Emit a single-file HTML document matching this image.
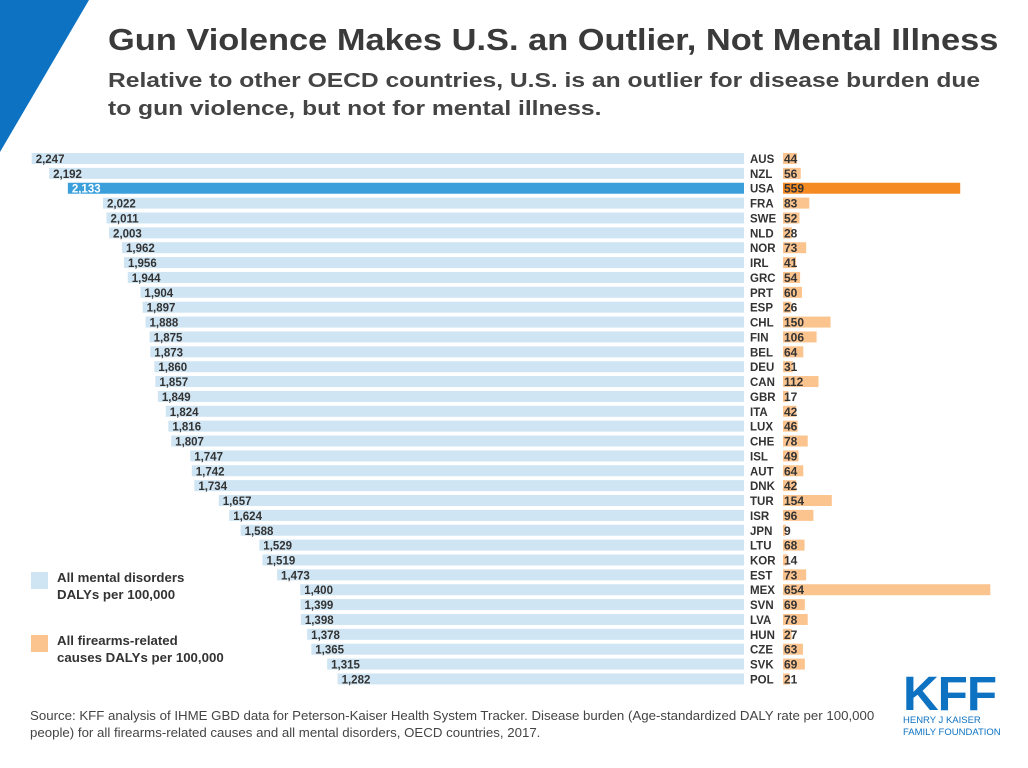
<!DOCTYPE html>
<html><head><meta charset="utf-8"><style>
body{margin:0;width:1028px;height:768px;background:#fff;font-family:"Liberation Sans",sans-serif;overflow:hidden;position:relative}
.t{position:absolute;white-space:nowrap;transform-origin:left top}
</style></head><body>
<svg width="100" height="160" style="position:absolute;left:0;top:0"><polygon points="0,0 89,0 0,152" fill="#0d72c2"/></svg>
<div class="t" style="left:108px;top:22px;font-size:31px;font-weight:bold;color:#3a3a3a;transform:scaleX(1.11)">Gun Violence Makes U.S. an Outlier, Not Mental Illness</div>
<div class="t" style="left:108px;top:67px;font-size:20.5px;font-weight:bold;color:#444;line-height:28px;transform:scaleX(1.2)">Relative to other OECD countries, U.S. is an outlier for disease burden due<br>to gun violence, but not for mental illness.</div>
<svg id="chart" width="1028" height="700" style="position:absolute;left:0;top:0"></svg>
<div style="position:absolute;left:31px;top:572px;width:17px;height:17px;background:#cfe5f3"></div>
<div class="t" style="left:57px;top:570px;font-size:12.5px;font-weight:bold;color:#333;line-height:17px;transform:scaleX(1.06)">All mental disorders<br>DALYs per 100,000</div>
<div style="position:absolute;left:31px;top:635px;width:17px;height:17px;background:#fbc48f"></div>
<div class="t" style="left:57px;top:633px;font-size:12.5px;font-weight:bold;color:#333;line-height:17px;transform:scaleX(1.06)">All firearms-related<br>causes DALYs per 100,000</div>
<div class="t" style="left:30px;top:708px;font-size:12.5px;color:#444;line-height:17px;transform:scaleX(1.06)">Source: KFF analysis of IHME GBD data for Peterson-Kaiser Health System Tracker. Disease burden (Age-standardized DALY rate per 100,000<br>people) for all firearms-related causes and all mental disorders, OECD countries, 2017.</div>
<div class="t" style="left:903px;top:672px;font-size:48px;font-weight:bold;color:#0d72c2;letter-spacing:-1px;line-height:46px;transform:scaleX(1.03)">KFF</div>
<div class="t" style="left:903px;top:715px;font-size:9.5px;color:#0d72c2;line-height:12px">HENRY J KAISER<br>FAMILY FOUNDATION</div>
<script>
const countries=["AUS","NZL","USA","FRA","SWE","NLD","NOR","IRL","GRC","PRT","ESP","CHL","FIN","BEL","DEU","CAN","GBR","ITA","LUX","CHE","ISL","AUT","DNK","TUR","ISR","JPN","LTU","KOR","EST","MEX","SVN","LVA","HUN","CZE","SVK","POL"];
const mental=[2247,2192,2133,2022,2011,2003,1962,1956,1944,1904,1897,1888,1875,1873,1860,1857,1849,1824,1816,1807,1747,1742,1734,1657,1624,1588,1529,1519,1473,1400,1399,1398,1378,1365,1315,1282];
const firearms=[44,56,559,83,52,28,73,41,54,60,26,150,106,64,31,112,17,42,46,78,49,64,42,154,96,9,68,14,73,654,69,78,27,63,69,21];
const svg=document.getElementById('chart');const NS='http://www.w3.org/2000/svg';
const scale=0.317, leftEnd=744, rightStart=783, top0=153, step=14.87, bh=11;
const y=i=>top0+i*step;
function mk(tag,attrs){const e=document.createElementNS(NS,tag);for(const k in attrs)e.setAttribute(k,attrs[k]);svg.appendChild(e);return e;}
countries.forEach((c,i)=>{
 const us=c==="USA";
 const w=mental[i]*scale;
 const b=mk('rect',{x:leftEnd-w,y:y(i),width:w,height:bh,fill:us?'#3a9fda':'#cfe5f3'});
 
 
 const t=mk('text',{x:leftEnd-w+4,y:y(i)+10,'font-size':11.5,'font-weight':'bold',fill:us?'#fff':'#333'});
 t.textContent=mental[i].toLocaleString('en-US');
 
 
 const l=mk('text',{x:750,y:y(i)+10,'font-size':11.5,'font-weight':'bold',fill:'#333'});
 l.textContent=c;
 
 
 const fw=firearms[i]*scale;
 const r=mk('rect',{x:rightStart,y:y(i),width:fw,height:bh,fill:us?'#f58a23':'#fbc48f'});
 
 
 const v=mk('text',{x:rightStart+1,y:y(i)+10,'font-size':12,'font-weight':'bold',fill:'#333'});
 v.textContent=firearms[i];
 
 
});
</script>
</body></html>
